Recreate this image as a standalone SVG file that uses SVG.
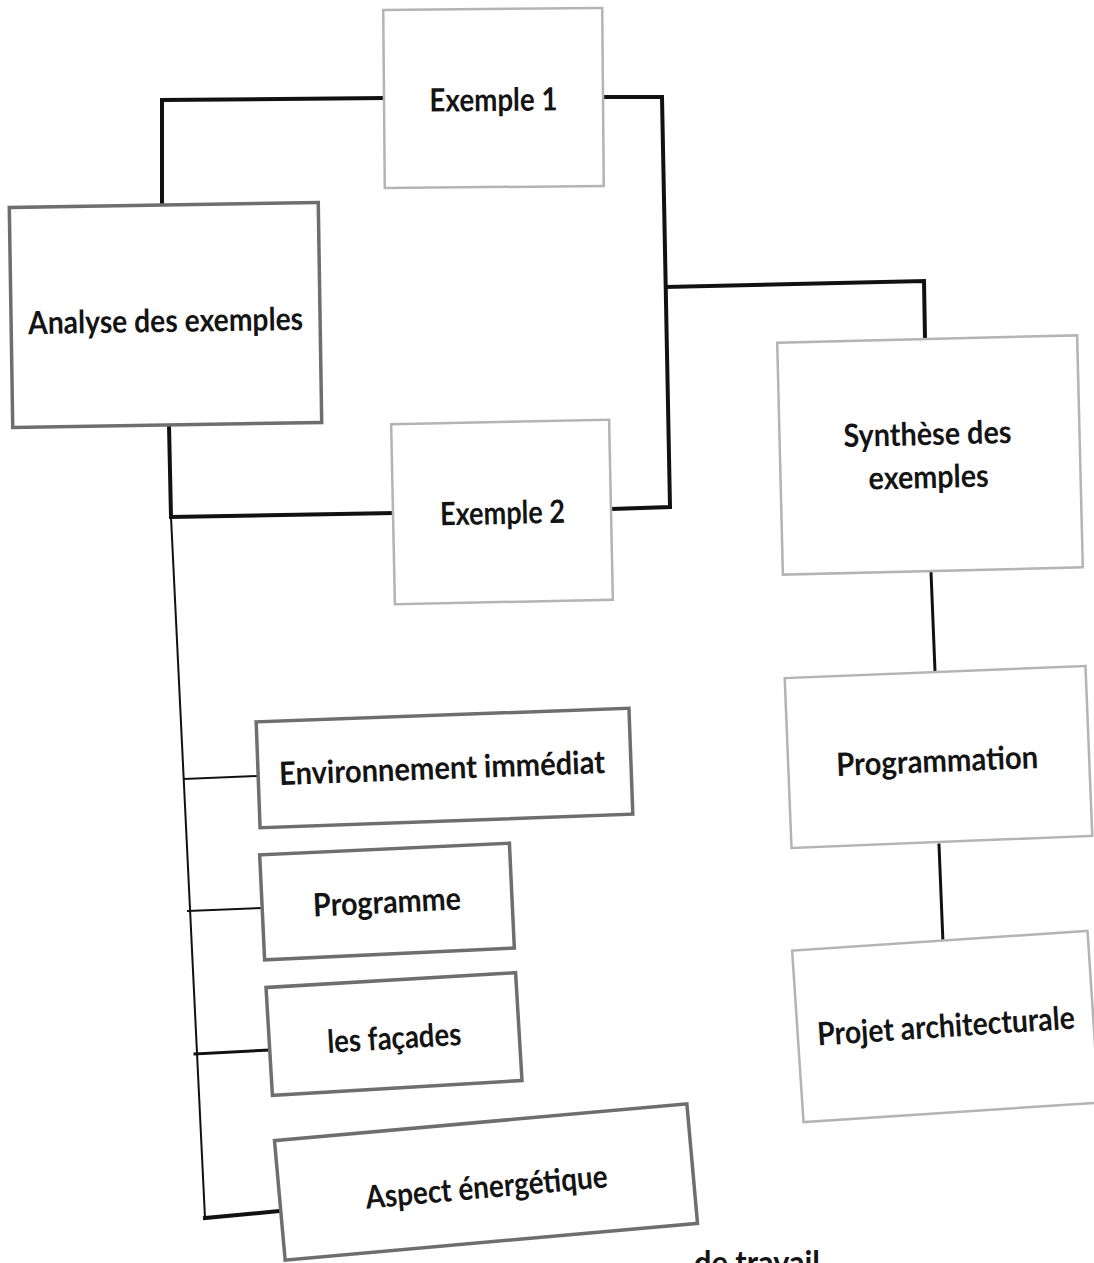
<svg xmlns="http://www.w3.org/2000/svg" width="1094" height="1263" viewBox="0 0 1094 1263">
  <style>
    .box-dark { fill: #ffffff; stroke: #6e6e6e; stroke-width: 3.5; }
    .box-light { fill: #ffffff; stroke: #b4b4b4; stroke-width: 2.5; }
    .label { font-family: Lato, "Open Sans", "Liberation Sans", sans-serif; font-weight: 700; font-size: 32px; fill: #141414; text-anchor: middle; }
    .wire { fill: none; stroke: #111111; stroke-linejoin: miter; stroke-linecap: square; }
    .thick { stroke-width: 4; }
    .mid { stroke-width: 3; }
    .thin { stroke-width: 2; }
  </style>

  <rect x="0" y="0" width="1094" height="1263" fill="#ffffff"/>

  <!-- connectors -->
  <g id="connectors">
    <polyline class="wire thick" points="162,203 162,100 384,98"/>
    <polyline class="wire thick" points="603,97 662,97 670,507 613,509"/>
    <polyline class="wire thick" points="666,287 924,281 925,338"/>
    <polyline class="wire thick" points="169,425 171,517 393,513"/>
    <line class="wire thin" x1="171" y1="517" x2="205" y2="1218"/>
    <line class="wire thin" x1="184" y1="779" x2="258" y2="776"/>
    <line class="wire thin" x1="188" y1="911" x2="262" y2="908"/>
    <line class="wire mid" x1="195" y1="1054" x2="269" y2="1050"/>
    <line class="wire thick" x1="205" y1="1218" x2="280" y2="1211"/>
    <line class="wire mid" x1="931" y1="572" x2="935" y2="671"/>
    <line class="wire mid" x1="939" y1="845" x2="943" y2="943"/>
  </g>

  <!-- Exemple 1 -->
  <g id="exemple1" transform="rotate(-0.5 493.5 98)">
    <rect class="box-light" x="384" y="9" width="219" height="178"/>
    <text class="label" x="493.5" y="111" textLength="128" lengthAdjust="spacingAndGlyphs">Exemple 1</text>
  </g>

  <!-- Analyse des exemples -->
  <g id="analyse" transform="rotate(-0.9 165.5 315)">
    <rect class="box-dark" x="11" y="205" width="309" height="220"/>
    <text class="label" x="165.5" y="332" textLength="275" lengthAdjust="spacingAndGlyphs">Analyse des exemples</text>
  </g>

  <!-- Exemple 2 -->
  <g id="exemple2" transform="rotate(-1.2 502 512)">
    <rect class="box-light" x="393" y="422" width="218" height="180"/>
    <text class="label" x="502.5" y="524" textLength="125" lengthAdjust="spacingAndGlyphs">Exemple 2</text>
  </g>

  <!-- Synthèse des exemples -->
  <g id="synthese" transform="rotate(-1.4 930 455)">
    <rect class="box-light" x="780" y="339" width="300" height="232"/>
    <text class="label" x="928" y="445" textLength="168" lengthAdjust="spacingAndGlyphs">Synthèse des</text>
    <text class="label" x="928" y="488" textLength="120" lengthAdjust="spacingAndGlyphs">exemples</text>
  </g>

  <!-- Programmation -->
  <g id="programmation" transform="rotate(-2.3 938 757)">
    <rect class="box-light" x="788" y="672" width="301" height="170"/>
    <text class="label" x="937" y="772" textLength="202" lengthAdjust="spacingAndGlyphs">Programmation</text>
  </g>

  <!-- Projet architecturale -->
  <g id="projet" transform="rotate(-3.8 946.5 1026.5)">
    <rect class="box-light" x="797.5" y="940.5" width="296" height="172"/>
    <text class="label" x="946" y="1037" textLength="258" lengthAdjust="spacingAndGlyphs">Projet architecturale</text>
  </g>

  <!-- Environnement immédiat -->
  <g id="environnement" transform="rotate(-2.1 444.5 768)">
    <rect class="box-dark" x="258" y="715" width="373" height="106"/>
    <text class="label" x="442" y="779" textLength="326" lengthAdjust="spacingAndGlyphs">Environnement immédiat</text>
  </g>

  <!-- Programme -->
  <g id="programme" transform="rotate(-2.7 387 901.5)">
    <rect class="box-dark" x="262" y="849" width="250" height="105"/>
    <text class="label" x="387" y="913" textLength="148" lengthAdjust="spacingAndGlyphs">Programme</text>
  </g>

  <!-- les façades -->
  <g id="facades" transform="rotate(-3.4 394 1034)">
    <rect class="box-dark" x="269" y="980" width="250" height="108"/>
    <text class="label" x="394" y="1049" textLength="134" lengthAdjust="spacingAndGlyphs">les façades</text>
  </g>

  <!-- Aspect énergétique -->
  <g id="aspect" transform="rotate(-5.1 486 1182)">
    <rect class="box-dark" x="279" y="1122" width="414" height="120"/>
    <text class="label" x="486" y="1198" font-size="34" textLength="243" lengthAdjust="spacingAndGlyphs">Aspect énergétique</text>
  </g>

  <!-- caption line running off the bottom edge -->
  <text class="label" x="694" y="1274" font-size="28" style="text-anchor:start" textLength="126" lengthAdjust="spacingAndGlyphs">de travail</text>
</svg>
